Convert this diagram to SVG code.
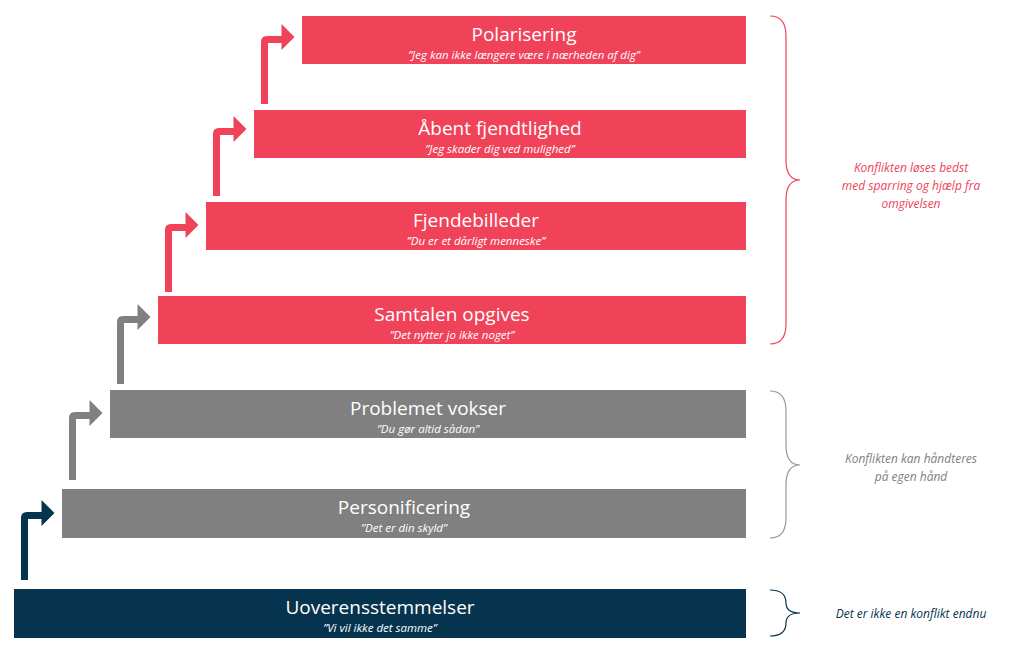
<svg xmlns="http://www.w3.org/2000/svg" width="1024" height="651" viewBox="0 0 1024 651">
<style>
.t{font-family:"Open Sans","Liberation Sans",sans-serif;font-size:19px;fill:#fff;text-anchor:middle}
.q{font-family:"Open Sans","Liberation Sans",sans-serif;font-size:11.5px;font-style:italic;fill:#fff;text-anchor:middle}
.n{font-family:"Open Sans","Liberation Sans",sans-serif;font-size:12px;font-style:italic;text-anchor:middle}
.red{fill:#F0435A}.gray{fill:#808080}.navy{fill:#06344F}
.br{fill:none;stroke-width:1.2}
</style>
<defs>
<path id="arr" d="M-3.5,0 V-62 Q-3.5,-68 2.5,-68 H17 V-80 L30,-67 L17,-54 V-61 H3.5 V0 Z"/>
</defs>
<rect width="1024" height="651" fill="#fff"/>
<g id="connectors">
<use href="#arr" x="24.5" y="580" class="navy"/>
<use href="#arr" x="72.5" y="480" class="gray"/>
<use href="#arr" x="120.5" y="384" class="gray"/>
<use href="#arr" x="168.5" y="292" class="red"/>
<use href="#arr" x="216.5" y="196" class="red"/>
<use href="#arr" x="264.5" y="104" class="red"/>
</g>
<g id="n1"><rect x="302" y="16" width="444" height="48" class="red"/><text x="524" y="41" class="t">Polarisering</text><text x="524" y="59" class="q">”Jeg kan ikke længere være i nærheden af dig”</text></g>
<g id="n2"><rect x="254" y="110" width="492" height="48" class="red"/><text x="500" y="135" class="t">Åbent fjendtlighed</text><text x="500" y="153" class="q">”Jeg skader dig ved mulighed”</text></g>
<g id="n3"><rect x="206" y="202" width="540" height="48" class="red"/><text x="476" y="227" class="t">Fjendebilleder</text><text x="476" y="245" class="q">”Du er et dårligt menneske”</text></g>
<g id="n4"><rect x="158" y="296" width="588" height="48" class="red"/><text x="452" y="321" class="t">Samtalen opgives</text><text x="452" y="339" class="q">”Det nytter jo ikke noget”</text></g>
<g id="n5"><rect x="110" y="390" width="636" height="48" class="gray"/><text x="428" y="415" class="t">Problemet vokser</text><text x="428" y="433" class="q">”Du gør altid sådan”</text></g>
<g id="n6"><rect x="62" y="489" width="684" height="49" class="gray"/><text x="404" y="514" class="t">Personificering</text><text x="404" y="532" class="q">”Det er din skyld”</text></g>
<g id="n7"><rect x="14" y="589" width="732" height="49" class="navy"/><text x="380" y="614" class="t">Uoverensstemmelser</text><text x="380" y="632" class="q">”Vi vil ikke det samme”</text></g>
<g id="braces">
<path class="br" stroke="#F0435A" d="M770,16 Q786,16 786,36 V160 Q786,180 800,180 Q786,180 786,200 V324 Q786,344 770,344"/>
<path class="br" stroke="#999" d="M770,391 Q786,391 786,411 V445 Q786,465 800,465 Q786,465 786,485 V518 Q786,538 770,538"/>
<path class="br" stroke="#06344F" d="M770,590 Q786,590 786,603 Q786,613 800,613 Q786,613 786,623 Q786,636 770,636"/>
</g>
<g id="notes">
<text class="n" x="911" y="172" fill="#F0435A">Konflikten løses bedst</text>
<text class="n" x="911" y="190" fill="#F0435A">med sparring og hjælp fra</text>
<text class="n" x="911" y="208" fill="#F0435A">omgivelsen</text>
<text class="n" x="911" y="463" fill="#808080">Konflikten kan håndteres</text>
<text class="n" x="911" y="481" fill="#808080">på egen hånd</text>
<text class="n" x="911" y="618" fill="#06344F">Det er ikke en konflikt endnu</text>
</g>
</svg>
